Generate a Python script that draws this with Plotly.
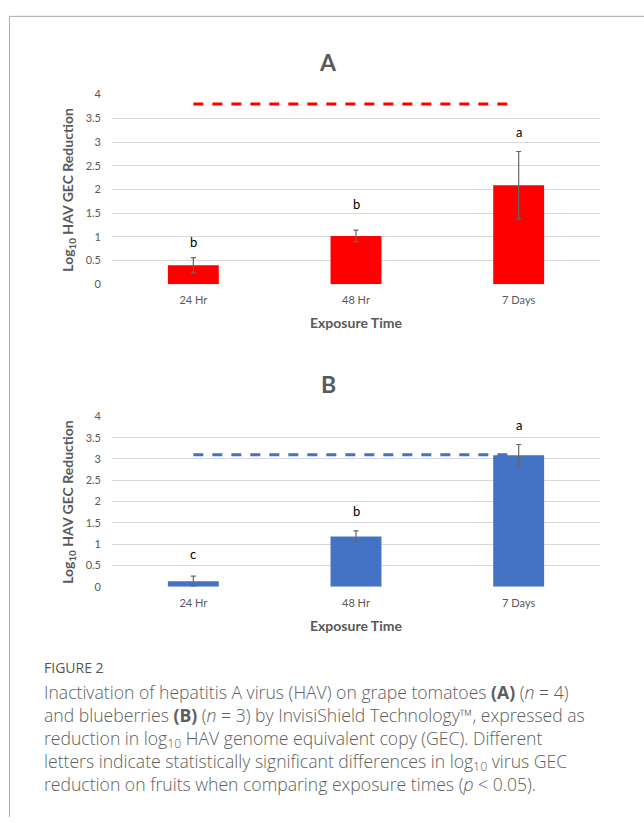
import plotly.graph_objects as go

# ---------------- data ----------------
categories = ["24 Hr", "48 Hr", "7 Days"]
cat_pos = [0, 1, 2]

tomato_mean = [0.40, 1.02, 2.09]
tomato_err = [0.16, 0.12, 0.71]
tomato_letters = ["b", "b", "a"]
tomato_letter_y = [0.84, 1.64, 3.16]
tomato_limit = 3.8

blueberry_mean = [0.13, 1.18, 3.09]
blueberry_err = [0.12, 0.13, 0.25]
blueberry_letters = ["c", "b", "a"]
blueberry_letter_y = [0.72, 1.73, 3.74]
blueberry_limit = 3.1

limit_x = [0, 1.94]
y_ticks = [0, 0.5, 1, 1.5, 2, 2.5, 3, 3.5, 4]
y_tick_text = ["0", "0.5", "1", "1.5", "2", "2.5", "3", "3.5", "4"]

RED = "#FF0000"
BLUE = "#4472C4"
GREY_TXT = "#595959"
W, H = 644, 823
FONT = "Lato"
CAP_FONT = "Open Sans"


def px(x):
    return x / W


def py(y):
    return 1 - y / H


fig = go.Figure()

panels = [
    dict(mean=tomato_mean, err=tomato_err, letters=tomato_letters, ly=tomato_letter_y,
         limit=tomato_limit, color=RED, xa="x", ya="y", title="A",
         top=89, bottom=281.7),
    dict(mean=blueberry_mean, err=blueberry_err, letters=blueberry_letters, ly=blueberry_letter_y,
         limit=blueberry_limit, color=BLUE, xa="x2", ya="y2", title="B",
         top=416, bottom=589),
]

annotations = []
for p in panels:
    fig.add_trace(go.Bar(
        x=cat_pos, y=p["mean"], width=0.313,
        marker=dict(color=p["color"], line=dict(width=0)),
        error_y=dict(type="data", array=p["err"], visible=True,
                     color="#666666", thickness=1.2, width=2.5),
        xaxis=p["xa"], yaxis=p["ya"], showlegend=False,
    ))
    fig.add_trace(go.Scatter(
        x=limit_x, y=[p["limit"], p["limit"]], mode="lines",
        line=dict(color=p["color"], width=3, dash="10px,9px"),
        xaxis=p["xa"], yaxis=p["ya"], showlegend=False, hoverinfo="skip",
    ))
    for xi, lt, yy in zip(cat_pos, p["letters"], p["ly"]):
        annotations.append(dict(x=xi, y=yy, xref=p["xa"], yref=p["ya"], text=lt,
                                showarrow=False, font=dict(family=FONT, size=13, color="#000000"),
                                xanchor="center", yanchor="middle", yshift=2))
    mid = (p["top"] + p["bottom"]) / 2
    # panel title
    annotations.append(dict(x=px(328), y=py(p["top"] - 33), xref="paper", yref="paper",
                            text="<b>%s</b>" % p["title"], showarrow=False,
                            font=dict(family=FONT, size=23, color=GREY_TXT),
                            xanchor="center", yanchor="middle"))
    # y axis title
    annotations.append(dict(x=px(68.3), y=py(mid), xref="paper", yref="paper",
                            text="<b>Log<sub>10</sub> HAV GEC Reduction</b>", textangle=-90,
                            showarrow=False, font=dict(family=FONT, size=14, color=GREY_TXT),
                            xanchor="center", yanchor="middle"))
    # x axis title
    annotations.append(dict(x=px(356), y=py(p["bottom"] + 39), xref="paper", yref="paper",
                            text="<b>Exposure Time</b>", showarrow=False,
                            font=dict(family=FONT, size=14, color=GREY_TXT),
                            xanchor="center", yanchor="middle"))

# caption
caption_lines = [
    "Inactivation of hepatitis A virus (HAV) on grape tomatoes <b>(A)</b> (<i>n</i> = 4)",
    "and blueberries <b>(B)</b> (<i>n</i> = 3) by InvisiShield Technology\u2122, expressed as",
    "reduction in log<sub>10</sub> HAV genome equivalent copy (GEC). Different",
    "letters indicate statistically significant differences in log<sub>10</sub> virus GEC",
    "reduction on fruits when comparing exposure times (<i>p</i> < 0.05).",
]
annotations.append(dict(x=px(42), y=py(671), xref="paper", yref="paper", text="FIGURE 2",
                        showarrow=False, font=dict(family=CAP_FONT, size=14, color="#555555"),
                        xanchor="left", yanchor="middle"))
annotations.append(dict(x=px(42), y=py(682), xref="paper", yref="paper",
                        text="<br>".join(caption_lines), align="left",
                        showarrow=False, font=dict(family=CAP_FONT, size=17.6, color="#5e5e5e", weight=300),
                        xanchor="left", yanchor="top"))

xaxis_common = dict(domain=[px(112), px(600)], range=[-0.5, 2.5], tickvals=cat_pos,
                    ticktext=categories, showgrid=False, zeroline=False, showline=False,
                    tickfont=dict(family=FONT, size=11, color=GREY_TXT), ticks="",
                    ticklabelstandoff=8, fixedrange=True)
yaxis_common = dict(range=[0, 4], tickvals=y_ticks, ticktext=y_tick_text, showgrid=True,
                    gridcolor="#D9D9D9", gridwidth=1, zeroline=False, showline=False,
                    tickfont=dict(family=FONT, size=11, color=GREY_TXT), ticks="",
                    ticklabelstandoff=10, fixedrange=True)

fig.update_layout(
    width=W, height=H, margin=dict(l=0, r=0, t=0, b=0),
    paper_bgcolor="white", plot_bgcolor="white",
    xaxis=dict(**xaxis_common, anchor="y"),
    yaxis=dict(**yaxis_common, domain=[py(281.7), py(89)], anchor="x"),
    xaxis2=dict(**xaxis_common, anchor="y2"),
    yaxis2=dict(**yaxis_common, domain=[py(589), py(416)], anchor="x2"),
    annotations=annotations,
    shapes=[
        dict(type="line", xref="paper", yref="paper", x0=px(9.5), x1=px(9.5), y0=0, y1=py(9.5),
             line=dict(color="#AAAAAA", width=1)),
        dict(type="line", xref="paper", yref="paper", x0=px(9.5), x1=1, y0=py(9.5), y1=py(9.5),
             line=dict(color="#AAAAAA", width=1)),
    ],
    bargap=0.69,
)

fig.write_html("out.html", config={"displayModeBar": False},
               post_script="document.body.style.margin='0';document.body.style.overflow='hidden';")
